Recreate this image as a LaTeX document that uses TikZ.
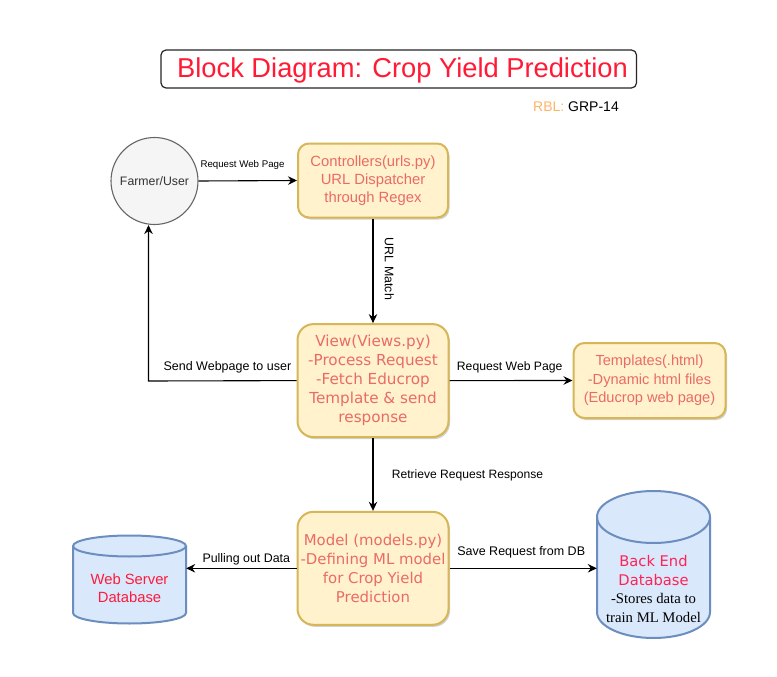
\documentclass[tikz,border=0pt]{standalone}
\usepackage{fontspec}
\setmainfont{Liberation Sans}
\newfontfamily\djv{DejaVu Sans}
\newfontfamily\tms{Liberation Serif}
\usetikzlibrary{arrows.meta,shadows}
\definecolor{yfill}{HTML}{FFF2CC}
\definecolor{ydraw}{HTML}{D6B656}
\definecolor{bfill}{HTML}{DAE8FC}
\definecolor{bdraw}{HTML}{6C8EBF}
\definecolor{gfill}{HTML}{F5F5F5}
\definecolor{gdraw}{HTML}{666666}
\definecolor{gtext}{HTML}{333333}
\definecolor{coral}{HTML}{EA6B66}
\definecolor{titlered}{HTML}{FF1A35}
\definecolor{dbred}{HTML}{FF1A3C}
\definecolor{bered}{HTML}{FF2255}
\definecolor{rblorange}{HTML}{FFB366}
\newcommand\fsz[2]{\fontsize{#1}{#2}\selectfont}
\begin{document}
\begin{tikzpicture}[x=1pt,y=-1pt,
  yellowbox/.style={draw=ydraw,fill=yfill,line width=2pt,align=center,text=coral,inner sep=0pt,
    drop shadow={shadow xshift=1.5pt,shadow yshift=-2pt,fill=black,opacity=0.18}},
  dbshape/.style={draw=bdraw,fill=bfill,line width=2pt},
  conn/.style={line width=1.1pt,-{Stealth[length=9pt,width=8.5pt,inset=3pt]}},
  lbl/.style={inner sep=0pt,text=black},
  anchorbox/.style={draw=none,inner sep=0pt}
]
\useasboundingbox[fill=white] (0,0) rectangle (777,677);

% title
\node[draw=black!85,line width=1.2pt,rounded corners=5pt,minimum width=475.5pt,minimum height=38pt,inner sep=0pt] (tbox) at (398.75,69) {};
\node[anchor=base,inner sep=0pt,text=titlered,font=\fsz{27.3}{30}] (title) at (402.5,77.7) {Block Diagram: Crop Yield Prediction};
\node[anchor=base west,inner sep=0pt,font=\fsz{14}{16}] (rbl) at (533,111.5) {\textcolor{rblorange}{RBL:} GRP-14};

% farmer
\node[circle,draw=gdraw,fill=gfill,line width=1.1pt,minimum size=87pt,inner sep=0pt,text=gtext,font=\fsz{12.3}{14}] (farmer) at (154.5,181) {Farmer/User};

% boxes
\node[yellowbox,rounded corners=11pt,minimum width=150pt,minimum height=74pt,font=\fsz{14.8}{18.3}] (ctrl) at (373,180.5)
  {Controllers(urls.py)\\URL Dispatcher\\through Regex};
\node[yellowbox,rounded corners=16pt,minimum width=151pt,minimum height=113pt,font=\djv\fsz{15.2}{19}] (view) at (373,380.6)
  {View(Views.py)\\-Process Request\\-Fetch Educrop\\Template \& send\\response};
\node[yellowbox,rounded corners=11pt,minimum width=152pt,minimum height=75pt,font=\fsz{14.6}{18.6}] (tmpl) at (649.5,380.5)
  {Templates(.html)\\-Dynamic html files\\(Educrop web page)};
\node[yellowbox,rounded corners=16pt,minimum width=151pt,minimum height=113pt,font=\djv\fsz{14.9}{19}] (model) at (373,568.3)
  {Model (models.py)\\-Defining ML model\\for Crop Yield\\Prediction};

% web server database cylinder
\path[dbshape] (73,546) -- (73,613) arc[start angle=180,end angle=0,x radius=56.5,y radius=10.5]
  -- (186,546) arc[start angle=0,end angle=-180,x radius=56.5,y radius=10.5] -- cycle;
\draw[draw=bdraw,line width=2pt] (73,546) arc[start angle=180,end angle=0,x radius=56.5,y radius=10.5];
\node[anchorbox,minimum width=113pt,minimum height=88pt] (ws) at (129.5,580) {};
\node[inner sep=0pt,align=center,text=dbred,font=\fsz{14.8}{17.7}] (wstext) at (129.5,588.5) {Web Server\\Database};

% back end database cylinder
\path[dbshape] (597,517) -- (597,612) arc[start angle=180,end angle=0,x radius=56.5,y radius=26]
  -- (710,517) arc[start angle=0,end angle=-180,x radius=56.5,y radius=26] -- cycle;
\draw[draw=bdraw,line width=2pt] (597,517) arc[start angle=180,end angle=0,x radius=56.5,y radius=26];
\node[anchorbox,minimum width=113pt,minimum height=147pt] (be) at (653.5,564.5) {};
\node[inner sep=0pt,align=center,font=\fsz{14.7}{18.4}] (betext) at (653.5,589)
  {{\djv\color{bered}Back End}\\{\djv\color{bered}Database}\\{\tms -Stores data to}\\{\tms train ML Model}};

% connectors
\coordinate (corner) at (148.5,381);
\draw[conn] (farmer.east) -- (ctrl.west);
\draw[conn] (ctrl.south) -- (view.north);
\draw[conn] (view.east) -- (tmpl.west);
\draw[conn] (view.west) -- (corner) -- (corner |- farmer.south);
\draw[conn] (view.south) -- (model.north);
\draw[conn] (model.west) -- (model.west -| ws.east);
\draw[conn] (model.east) -- (model.east -| be.west);

% labels
\node[lbl,font=\fsz{9.7}{11}] (l1) at (242.5,164.5) {Request Web Page};
\node[lbl,font=\fsz{12.4}{14},rotate=-90] (l2) at (389.3,269) {URL Match};
\node[lbl,font=\fsz{12.5}{14}] (l3) at (227.4,367.3) {Send Webpage to user};
\node[lbl,font=\fsz{12.2}{14}] (l4) at (509.7,367.3) {Request Web Page};
\node[lbl,font=\fsz{12.1}{14}] (l5) at (467.5,475.7) {Retrieve Request Response};
\node[lbl,font=\fsz{12.4}{14}] (l6) at (246.3,559.3) {Pulling out Data};
\node[lbl,font=\fsz{12.5}{14}] (l7) at (521.2,552.3) {Save Request from DB};
\end{tikzpicture}
\end{document}
